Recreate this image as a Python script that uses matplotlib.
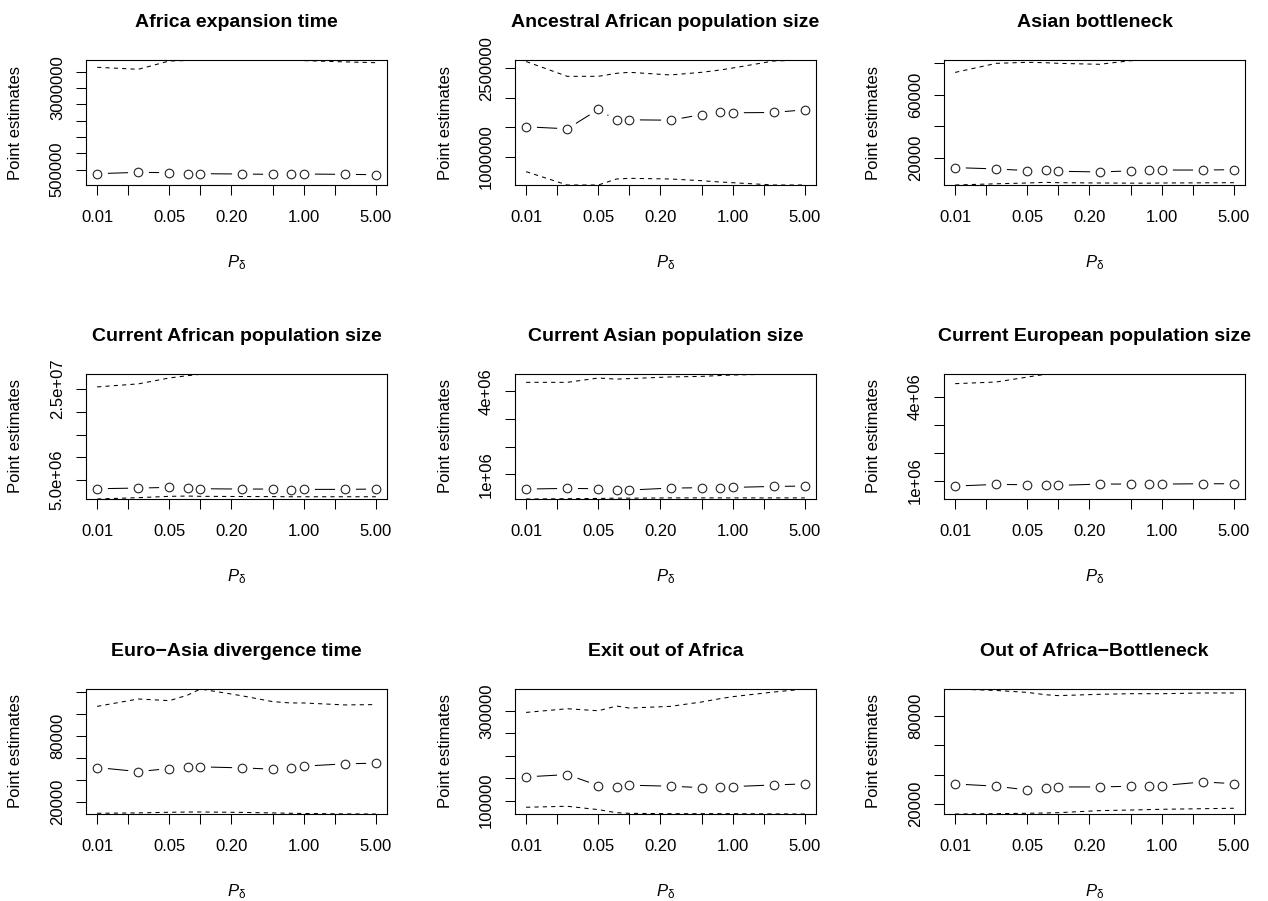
import matplotlib
matplotlib.use('Agg')
import matplotlib.pyplot as plt

plt.rcParams['font.family'] = ['Liberation Sans', 'DejaVu Sans']
plt.rcParams['mathtext.fontset'] = 'custom'
plt.rcParams['mathtext.rm'] = 'Liberation Sans'
plt.rcParams['mathtext.it'] = 'Liberation Sans:italic'

# P_delta values used in every panel
p_delta = [0.01, 0.025, 0.05, 0.075, 0.1, 0.25, 0.5, 0.75, 1.0, 2.5, 5.0]
x_ticks = [0.01, 0.02, 0.05, 0.1, 0.2, 0.5, 1, 2, 5]
x_labels = ['0.01', '', '0.05', '', '0.20', '', '1.00', '', '5.00']

# Africa expansion time
afr_exp_est = [378500, 419500, 409000, 378500, 378500, 368000, 358000, 368000, 368000, 358000, 348000]
afr_exp_lo = [32000, 32000, 32000, 32000, 32000, 32000, 32000, 32000, 32000, 32000, 32000]
afr_exp_hi = [3635000, 3573000, 3828000, 3843000, 3850000, 3855000, 3858000, 3850000, 3840000, 3800000, 3776000]
afr_exp_yt = [500000, 1000000, 1500000, 2000000, 2500000, 3000000, 3500000]
afr_exp_yl = ['500000', '', '', '', '', '3000000', '']

# Ancestral African population size
anc_afr_est = [1507000, 1473000, 1801000, 1619000, 1626000, 1619000, 1714000, 1765000, 1745000, 1750000, 1796000]
anc_afr_lo = [745000, 519000, 519000, 621000, 632000, 621000, 592000, 570000, 558000, 519000, 519000]
anc_afr_hi = [2615000, 2364000, 2364000, 2415000, 2432000, 2387000, 2432000, 2470000, 2505000, 2624000, 2641000]
anc_afr_yt = [1000000, 1500000, 2000000, 2500000]
anc_afr_yl = ['1000000', '', '', '2500000']

# Asian bottleneck
asn_bot_est = [14070, 13240, 12170, 12400, 11780, 11350, 12000, 12400, 12550, 12550, 12760]
asn_bot_lo = [3140, 3900, 4400, 4800, 4600, 4400, 4300, 4300, 4400, 4500, 4600]
asn_bot_hi = [73900, 79600, 80250, 80000, 79600, 79000, 81260, 81700, 81700, 81700, 81500]
asn_bot_yt = [20000, 40000, 60000, 80000]
asn_bot_yl = ['20000', '', '60000', '']

# Current African population size
cur_afr_est = [3109000, 3255000, 3401000, 3255000, 3109000, 3037000, 3037000, 2891000, 2964000, 2964000, 3037000]
cur_afr_lo = [855000, 1150000, 1440000, 1500000, 1440000, 1400000, 1380000, 1350000, 1350000, 1350000, 1350000]
cur_afr_hi = [25440000, 26100000, 27400000, 27900000, 28200000, 28270000, 28270000, 28270000, 28270000, 28270000, 28270000]
cur_afr_yt = [5e6, 1e7, 1.5e7, 2e7, 2.5e7]
cur_afr_yl = ['5.0e+06', '', '', '', '2.5e+07']

# Current Asian population size
cur_asn_est = [460000, 484000, 472000, 424000, 424000, 496000, 508000, 508000, 520000, 556000, 568000]
cur_asn_lo = [100000, 110000, 120000, 130000, 130000, 140000, 140000, 140000, 140000, 140000, 140000]
cur_asn_hi = [4324000, 4324000, 4480000, 4440000, 4460000, 4520000, 4540000, 4570000, 4590000, 4620000, 4626000]
cur_asn_yt = [1e6, 2e6, 3e6, 4e6]
cur_asn_yl = ['1e+06', '', '', '4e+06']

# Current European population size
cur_eur_est = [811000, 872000, 858000, 835000, 835000, 883000, 883000, 883000, 883000, 894000, 894000]
cur_eur_lo = [349000, 349000, 349000, 349000, 349000, 349000, 349000, 349000, 349000, 349000, 349000]
cur_eur_hi = [4473000, 4533000, 4710000, 4810000, 4819000, 4819000, 4819000, 4819000, 4819000, 4819000, 4819000]
cur_eur_yt = [1e6, 2e6, 3e6, 4e6]
cur_eur_yl = ['1e+06', '', '', '4e+06']

# Euro-Asia divergence time
eur_asn_est = [51600, 47940, 50680, 52230, 52230, 51320, 50130, 51600, 52870, 54970, 55600]
eur_asn_lo = [10000, 10300, 10900, 11100, 11150, 10800, 10300, 10000, 9800, 9400, 9320]
eur_asn_hi = [107300, 114000, 112500, 117500, 123100, 117000, 111600, 110400, 110400, 108600, 108900]
eur_asn_yt = [20000, 40000, 60000, 80000, 100000, 120000]
eur_asn_yl = ['20000', '', '', '80000', '', '']

# Exit out of Africa
exit_afr_est = [152900, 158000, 133500, 130600, 134400, 132100, 129000, 129800, 131200, 135000, 137200]
exit_afr_lo = [85300, 87500, 80000, 73200, 71800, 71000, 71000, 71000, 71000, 70500, 70300]
exit_afr_hi = [296300, 304500, 300000, 310500, 306000, 309800, 319500, 326800, 331300, 341700, 348400]
exit_afr_yt = [100000, 150000, 200000, 250000, 300000]
exit_afr_yl = ['100000', '', '', '', '300000']

# Out of Africa-Bottleneck
ooa_bot_est = [33850, 32280, 29750, 31120, 31800, 31800, 32280, 32480, 32690, 35200, 34050]
ooa_bot_lo = [13400, 13600, 13900, 14100, 14300, 15700, 16100, 16400, 16600, 17000, 17300]
ooa_bot_hi = [98400, 97400, 96100, 94500, 93900, 94800, 95200, 95200, 95200, 95700, 95700]
ooa_bot_yt = [20000, 40000, 60000, 80000]
ooa_bot_yl = ['20000', '', '', '80000']

panels = [
    ('Africa expansion time', afr_exp_est, afr_exp_lo, afr_exp_hi, afr_exp_yt, afr_exp_yl),
    ('Ancestral African population size', anc_afr_est, anc_afr_lo, anc_afr_hi, anc_afr_yt, anc_afr_yl),
    ('Asian bottleneck', asn_bot_est, asn_bot_lo, asn_bot_hi, asn_bot_yt, asn_bot_yl),
    ('Current African population size', cur_afr_est, cur_afr_lo, cur_afr_hi, cur_afr_yt, cur_afr_yl),
    ('Current Asian population size', cur_asn_est, cur_asn_lo, cur_asn_hi, cur_asn_yt, cur_asn_yl),
    ('Current European population size', cur_eur_est, cur_eur_lo, cur_eur_hi, cur_eur_yt, cur_eur_yl),
    ('Euro\u2212Asia divergence time', eur_asn_est, eur_asn_lo, eur_asn_hi, eur_asn_yt, eur_asn_yl),
    ('Exit out of Africa', exit_afr_est, exit_afr_lo, exit_afr_hi, exit_afr_yt, exit_afr_yl),
    ('Out of Africa\u2212Bottleneck', ooa_bot_est, ooa_bot_lo, ooa_bot_hi, ooa_bot_yt, ooa_bot_yl),
]

W, H = 1268, 901
fig = plt.figure(figsize=(W / 100, H / 100), dpi=100)

lefts = [86, 515, 944]
tops = [60, 374, 689]
aw, ah = 301, 125

for i, (title, est, lo, hi, yt, yl) in enumerate(panels):
    r, c = divmod(i, 3)
    ax = fig.add_axes([lefts[c] / W, 1 - (tops[r] + ah) / H, aw / W, ah / H])
    ax.set_xscale('log')

    # R type="b": line with gaps around the points
    ax.plot(p_delta, est, color='black', lw=0.75, zorder=2)
    ax.plot(p_delta, est, 'o', ms=15, mfc='white', mec='none', zorder=3)
    ax.plot(p_delta, lo, color='black', lw=0.75, ls=(0, (4, 4)), zorder=4)
    ax.plot(p_delta, hi, color='black', lw=0.75, ls=(0, (4, 4)), zorder=4)
    ax.plot(p_delta, est, 'o', ms=6.2, mfc='none', mec='#222222', mew=0.8, zorder=5)

    ax.set_xlim(10 ** -2.108, 10 ** 0.807)
    ax.set_ylim(min(lo), max(hi))
    ax.set_xticks(x_ticks)
    ax.set_xticklabels(x_labels)
    ax.xaxis.set_minor_locator(matplotlib.ticker.NullLocator())
    ax.set_yticks(yt)
    ax.set_yticklabels(yl, rotation=90, va='center')

    ax.tick_params(length=7.2, width=0.75, labelsize=12, color='black')
    ax.tick_params(axis='x', pad=11)
    ax.tick_params(axis='y', pad=8)
    for s in ax.spines.values():
        s.set_linewidth(0.8)
        s.set_zorder(6)

    ax.set_title(title, fontsize=14, fontweight='bold', pad=24)
    ax.set_xlabel(r'$P_{\mathrm{\delta}}$', fontsize=12, labelpad=20)
    ax.set_ylabel('Point estimates', fontsize=12, labelpad=19)

fig.savefig('out.png', dpi=100)
